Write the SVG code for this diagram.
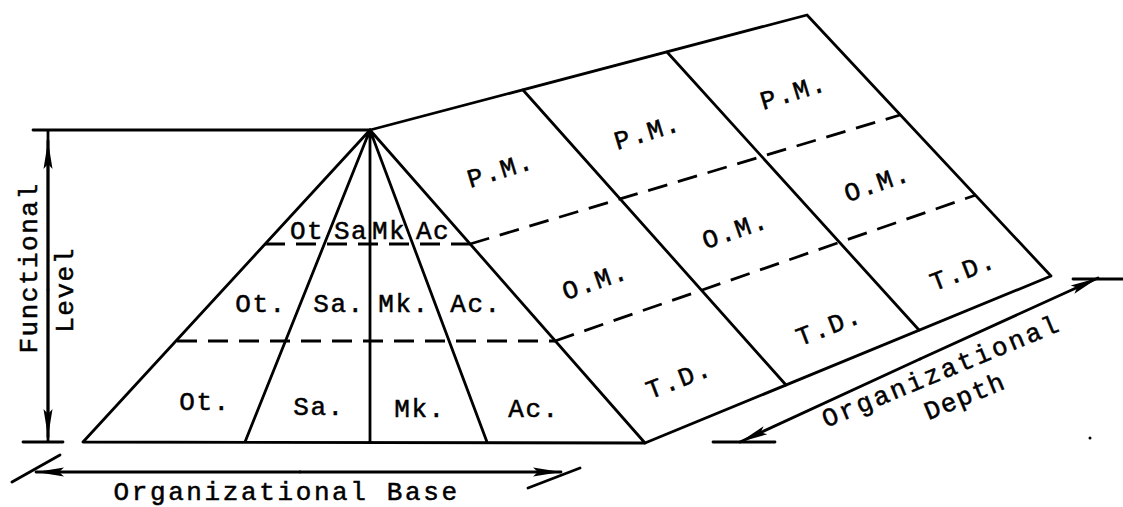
<svg xmlns="http://www.w3.org/2000/svg" width="1123" height="507" viewBox="0 0 1123 507">
<style>
.ln{stroke:#000;stroke-width:2.8;fill:none;stroke-linecap:round;stroke-linejoin:round}
.dash{stroke:#000;stroke-width:2.8;fill:none;stroke-dasharray:20 11}
.t{font-family:"Liberation Mono","Courier New",monospace;font-size:26px;fill:#000;stroke:#000;stroke-width:0.5;letter-spacing:1.5px;text-anchor:middle}
</style>
<defs>
<marker id="ah" markerUnits="userSpaceOnUse" markerWidth="40" markerHeight="20" viewBox="-30 -10 32 20" refX="0" refY="0" orient="auto">
<path d="M0,0 L-28,-4.5 L-23,0 L-28,4.5 Z" fill="#000"/>
</marker>
</defs>
<rect width="1123" height="507" fill="#fff"/>
<g id="pyramid">
<path class="ln" d="M83,442 L645,443 M83,442 L370,130 L645,443 M370,130 L245,442 M370,130 L370,442 M370,130 L487,442"/>
<path class="dash" d="M265,244 L470,244 M177,341 L555,341"/>
</g>
<g id="roof">
<path class="ln" d="M370,130 L807,15 L1051,276 L645,443"/>
<path class="ln" d="M523,90 L786,385 M667,52 L919,330"/>
<path class="dash" d="M470,244 L900,115 M555,341 L976,195"/>
</g>
<g id="pyramid-labels">
<text class="t" x="307" y="239">Ot</text>
<text class="t" x="351" y="239">Sa</text>
<text class="t" x="389" y="239">Mk</text>
<text class="t" x="433" y="239">Ac</text>
<text class="t" x="261" y="312">Ot.</text>
<text class="t" x="339" y="312">Sa.</text>
<text class="t" x="404" y="312">Mk.</text>
<text class="t" x="476" y="312">Ac.</text>
<text class="t" x="205" y="410">Ot.</text>
<text class="t" x="319" y="415">Sa.</text>
<text class="t" x="420" y="417">Mk.</text>
<text class="t" x="534" y="417">Ac.</text>
</g>
<g id="roof-labels">
<text class="t" transform="translate(503,178) rotate(-17)">P.M.</text>
<text class="t" transform="translate(650,140) rotate(-17)">P.M.</text>
<text class="t" transform="translate(796,100) rotate(-17)">P.M.</text>
<text class="t" transform="translate(598,289) rotate(-19)">O.M.</text>
<text class="t" transform="translate(738,238) rotate(-19)">O.M.</text>
<text class="t" transform="translate(880,191) rotate(-19)">O.M.</text>
<text class="t" transform="translate(682,387) rotate(-21)">T.D.</text>
<text class="t" transform="translate(832,334) rotate(-21)">T.D.</text>
<text class="t" transform="translate(966,279) rotate(-21)">T.D.</text>
</g>
<g id="connectors">
<path class="ln" d="M33,130 L370,130 M48,130 L48,442 M23,442 L63,442"/>
<line class="ln" x1="48" y1="290" x2="48" y2="141" marker-end="url(#ah)"/>
<line class="ln" x1="48" y1="290" x2="48" y2="437" marker-end="url(#ah)"/>
<path class="ln" d="M12,482 L60,455 M528,488 L580,468"/>
<line class="ln" x1="300" y1="472" x2="36" y2="472" marker-end="url(#ah)"/>
<line class="ln" x1="300" y1="472" x2="561" y2="472" marker-end="url(#ah)"/>
<path class="ln" d="M713,442 L775,442 M1073,279 L1123,279"/>
<line class="ln" x1="920" y1="359" x2="740" y2="442" marker-end="url(#ah)"/>
<line class="ln" x1="920" y1="359" x2="1098" y2="278" marker-end="url(#ah)"/>
<circle cx="1090" cy="438" r="1.5" fill="#000"/>
</g>
<g id="dimension-labels">
<text class="t" transform="translate(37,268) rotate(-90)" font-size="27">Functional</text>
<text class="t" transform="translate(73,290) rotate(-90)" font-size="27">Level</text>
<text class="t" x="286" y="500" textLength="345">Organizational Base</text>
<text class="t" transform="translate(944,379) rotate(-22.5)" textLength="255">Organizational</text>
<text class="t" transform="translate(968,404) rotate(-22.5)">Depth</text>
</g>
</svg>
